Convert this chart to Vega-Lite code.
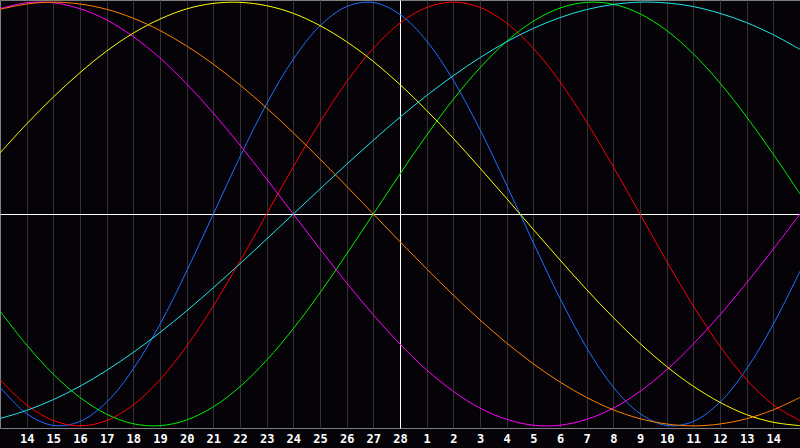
{
  "$schema": "https://vega.github.io/schema/vega-lite/v6.json",
  "width": 800,
  "height": 428,
  "autosize": {"type": "none"},
  "padding": {"left": 0, "top": 0, "right": 0, "bottom": 20},
  "background": "#050308",
  "data": {
    "values": [
      {"t": 0, "Physical": -0.817, "Emotional": -0.782, "Intellectual": -0.458, "Intuitive": 0.969, "Aesthetic": 0.288, "Awareness": 0.966, "Spiritual": -0.965},
      {"t": 1, "Physical": -0.942, "Emotional": -0.901, "Intellectual": -0.618, "Intuitive": 0.997, "Aesthetic": 0.425, "Awareness": 0.991, "Spiritual": -0.927},
      {"t": 2, "Physical": -0.998, "Emotional": -0.975, "Intellectual": -0.756, "Intuitive": 0.997, "Aesthetic": 0.552, "Awareness": 1.0, "Spiritual": -0.876},
      {"t": 3, "Physical": -0.979, "Emotional": -1.0, "Intellectual": -0.866, "Intuitive": 0.969, "Aesthetic": 0.667, "Awareness": 0.991, "Spiritual": -0.813},
      {"t": 4, "Physical": -0.888, "Emotional": -0.975, "Intellectual": -0.945, "Intuitive": 0.916, "Aesthetic": 0.769, "Awareness": 0.966, "Spiritual": -0.738},
      {"t": 5, "Physical": -0.731, "Emotional": -0.901, "Intellectual": -0.99, "Intuitive": 0.837, "Aesthetic": 0.854, "Awareness": 0.924, "Spiritual": -0.653},
      {"t": 6, "Physical": -0.52, "Emotional": -0.782, "Intellectual": -0.999, "Intuitive": 0.736, "Aesthetic": 0.92, "Awareness": 0.866, "Spiritual": -0.559},
      {"t": 7, "Physical": -0.27, "Emotional": -0.624, "Intellectual": -0.972, "Intuitive": 0.614, "Aesthetic": 0.968, "Awareness": 0.793, "Spiritual": -0.457},
      {"t": 8, "Physical": 0.0, "Emotional": -0.434, "Intellectual": -0.91, "Intuitive": 0.476, "Aesthetic": 0.994, "Awareness": 0.707, "Spiritual": -0.348},
      {"t": 9, "Physical": 0.27, "Emotional": -0.223, "Intellectual": -0.815, "Intuitive": 0.325, "Aesthetic": 0.999, "Awareness": 0.609, "Spiritual": -0.235},
      {"t": 10, "Physical": 0.52, "Emotional": 0.0, "Intellectual": -0.69, "Intuitive": 0.165, "Aesthetic": 0.983, "Awareness": 0.5, "Spiritual": -0.118},
      {"t": 11, "Physical": 0.731, "Emotional": 0.223, "Intellectual": -0.541, "Intuitive": 0.0, "Aesthetic": 0.947, "Awareness": 0.383, "Spiritual": 0.0},
      {"t": 12, "Physical": 0.888, "Emotional": 0.434, "Intellectual": -0.372, "Intuitive": -0.165, "Aesthetic": 0.889, "Awareness": 0.259, "Spiritual": 0.118},
      {"t": 13, "Physical": 0.979, "Emotional": 0.624, "Intellectual": -0.189, "Intuitive": -0.325, "Aesthetic": 0.813, "Awareness": 0.131, "Spiritual": 0.235},
      {"t": 14, "Physical": 0.998, "Emotional": 0.782, "Intellectual": 0.0, "Intuitive": -0.476, "Aesthetic": 0.72, "Awareness": 0.0, "Spiritual": 0.348},
      {"t": 15, "Physical": 0.942, "Emotional": 0.901, "Intellectual": 0.189, "Intuitive": -0.614, "Aesthetic": 0.611, "Awareness": -0.131, "Spiritual": 0.457},
      {"t": 16, "Physical": 0.817, "Emotional": 0.975, "Intellectual": 0.372, "Intuitive": -0.736, "Aesthetic": 0.489, "Awareness": -0.259, "Spiritual": 0.559},
      {"t": 17, "Physical": 0.631, "Emotional": 1.0, "Intellectual": 0.541, "Intuitive": -0.837, "Aesthetic": 0.357, "Awareness": -0.383, "Spiritual": 0.653},
      {"t": 18, "Physical": 0.398, "Emotional": 0.975, "Intellectual": 0.69, "Intuitive": -0.916, "Aesthetic": 0.217, "Awareness": -0.5, "Spiritual": 0.738},
      {"t": 19, "Physical": 0.136, "Emotional": 0.901, "Intellectual": 0.815, "Intuitive": -0.969, "Aesthetic": 0.073, "Awareness": -0.609, "Spiritual": 0.813},
      {"t": 20, "Physical": -0.136, "Emotional": 0.782, "Intellectual": 0.91, "Intuitive": -0.997, "Aesthetic": -0.073, "Awareness": -0.707, "Spiritual": 0.876},
      {"t": 21, "Physical": -0.398, "Emotional": 0.624, "Intellectual": 0.972, "Intuitive": -0.997, "Aesthetic": -0.217, "Awareness": -0.793, "Spiritual": 0.927},
      {"t": 22, "Physical": -0.631, "Emotional": 0.434, "Intellectual": 0.999, "Intuitive": -0.969, "Aesthetic": -0.357, "Awareness": -0.866, "Spiritual": 0.965},
      {"t": 23, "Physical": -0.817, "Emotional": 0.223, "Intellectual": 0.99, "Intuitive": -0.916, "Aesthetic": -0.489, "Awareness": -0.924, "Spiritual": 0.989},
      {"t": 24, "Physical": -0.942, "Emotional": 0.0, "Intellectual": 0.945, "Intuitive": -0.837, "Aesthetic": -0.611, "Awareness": -0.966, "Spiritual": 1.0},
      {"t": 25, "Physical": -0.998, "Emotional": -0.223, "Intellectual": 0.866, "Intuitive": -0.736, "Aesthetic": -0.72, "Awareness": -0.991, "Spiritual": 0.996},
      {"t": 26, "Physical": -0.979, "Emotional": -0.434, "Intellectual": 0.756, "Intuitive": -0.614, "Aesthetic": -0.813, "Awareness": -1.0, "Spiritual": 0.979},
      {"t": 27, "Physical": -0.888, "Emotional": -0.624, "Intellectual": 0.618, "Intuitive": -0.476, "Aesthetic": -0.889, "Awareness": -0.991, "Spiritual": 0.947},
      {"t": 28, "Physical": -0.731, "Emotional": -0.782, "Intellectual": 0.458, "Intuitive": -0.325, "Aesthetic": -0.947, "Awareness": -0.966, "Spiritual": 0.903},
      {"t": 29, "Physical": -0.52, "Emotional": -0.901, "Intellectual": 0.282, "Intuitive": -0.165, "Aesthetic": -0.983, "Awareness": -0.924, "Spiritual": 0.846},
      {"t": 30, "Physical": -0.27, "Emotional": -0.975, "Intellectual": 0.095, "Intuitive": 0.0, "Aesthetic": -0.999, "Awareness": -0.866, "Spiritual": 0.777}
    ]
  },
  "transform": [
    {"fold": ["Physical", "Emotional", "Intellectual", "Intuitive", "Aesthetic", "Awareness", "Spiritual"], "as": ["cycle", "value"]}
  ],
  "mark": {"type": "line", "interpolate": "catmull-rom", "strokeWidth": 1},
  "encoding": {
    "x": {
      "field": "t",
      "type": "quantitative",
      "scale": {"domain": [0, 30], "nice": false, "zero": false},
      "axis": {
        "values": [1, 2, 3, 4, 5, 6, 7, 8, 9, 10, 11, 12, 13, 14, 15, 16, 17, 18, 19, 20, 21, 22, 23, 24, 25, 26, 27, 28, 29],
        "labelExpr": "datum.value <= 15 ? datum.value + 13 : datum.value - 15",
        "title": null,
        "grid": true,
        "gridColor": {"condition": {"test": "datum.value === 15", "value": "#ffffff"}, "value": "#333333"},
        "gridOpacity": 1,
        "domain": false,
        "ticks": false,
        "labelColor": "#ffffff",
        "labelFont": "DejaVu Sans Mono",
        "labelFontWeight": "bold",
        "labelFontSize": 12,
        "labelPadding": 5,
        "labelFlush": false
      }
    },
    "y": {
      "field": "value",
      "type": "quantitative",
      "scale": {"domain": [-1.01, 1.01], "nice": false, "zero": false},
      "axis": {
        "values": [0],
        "grid": true,
        "gridColor": "#ffffff",
        "gridOpacity": 1,
        "labels": false,
        "ticks": false,
        "domain": false,
        "title": null
      }
    },
    "color": {
      "field": "cycle",
      "type": "nominal",
      "scale": {
        "domain": ["Physical", "Emotional", "Intellectual", "Intuitive", "Aesthetic", "Awareness", "Spiritual"],
        "range": ["#1f6fff", "#ff0000", "#00f000", "#ff00ff", "#ffff00", "#ff8000", "#20e8e8"]
      },
      "legend": null
    }
  },
  "config": {"view": {"stroke": "#808080", "strokeWidth": 1}}
}
